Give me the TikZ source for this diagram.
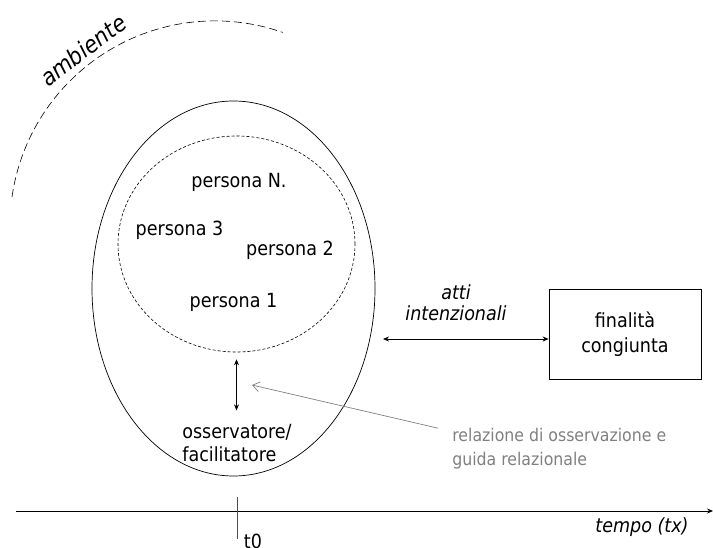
\documentclass[tikz,border=0pt]{standalone}
\usepackage{fontspec}
\setmainfont{DejaVu Sans Condensed}
\usetikzlibrary{arrows.meta,shapes.geometric}
\definecolor{grigio}{RGB}{128,128,128}

\begin{document}
\begin{tikzpicture}[x=1pt,y=-1pt,>={Stealth[length=6pt,width=5pt]},line width=0.7pt,
  every node/.style={font=\fontsize{19.5}{24}\selectfont,inner sep=0pt}]
\useasboundingbox (0,0) rectangle (713,548);
% gruppo e ambiente
\node[draw,ellipse,minimum width=283pt,minimum height=375pt] (G) at (233.5,288.5) {};
\node[draw,ellipse,dash pattern=on 3pt off 2pt,line width=0.6pt,minimum width=237pt,minimum height=216pt] (C) at (236.5,244) {};
\coordinate (A0) at (12,197);
\draw[dash pattern=on 8pt off 4pt,line width=0.6pt] (A0) arc[start angle=188.1,end angle=289.3,radius=205];
\node[rotate=37,font=\itshape\fontsize{23.5}{26}\selectfont] (amb) at (83,50) {ambiente};
% persone
\node (PN) at (239,182) {persona N.};
\node (P3) at (179.5,230) {persona 3};
\node (P2) at (290,250) {persona 2};
\node (P1) at (233.5,302) {persona 1};
\node[align=left,anchor=west,font=\fontsize{19.5}{23}\selectfont] (O) at (182,443.5) {osservatore/\\facilitatore};
% finalita
\node[draw,align=center,minimum width=152pt,minimum height=90pt,font=\fontsize{19.5}{25}\selectfont] (F) at (625,334) {finalità\\congiunta};
\node[align=center,font=\itshape\fontsize{19.5}{21}\selectfont] (atti) at (456,302.5) {atti\\intenzionali};
\node[align=left,anchor=west,text=grigio,font=\fontsize{17.5}{24}\selectfont] (R) at (452,449) {relazione di osservazione e\\guida relazionale};
% tempo
\coordinate (T0) at (16,511);
\coordinate (T1) at (713,511);
\coordinate (K0) at (237,497);
\coordinate (K1) at (237,539);
\node (t0) at (253,541) {t0};
\node[font=\itshape\fontsize{19.5}{24}\selectfont] (tempo) at (642,527) {tempo (tx)};
\coordinate (H0) at (383,339);
\coordinate (R1) at (252,385);
\draw[<->] (H0) -- (H0 -| F.west);
\draw[<->,shorten <=7pt,shorten >=14pt] (C.south) -- (C.south |- O.north);
\draw[grigio,->,>={Straight Barb[length=7pt,width=10pt]}] ([xshift=-14pt]R.north west) -- (R1);
\draw[->] (T0) -- (T1);
\draw[black!70] (K0) -- (K1);
\end{tikzpicture}
\end{document}
